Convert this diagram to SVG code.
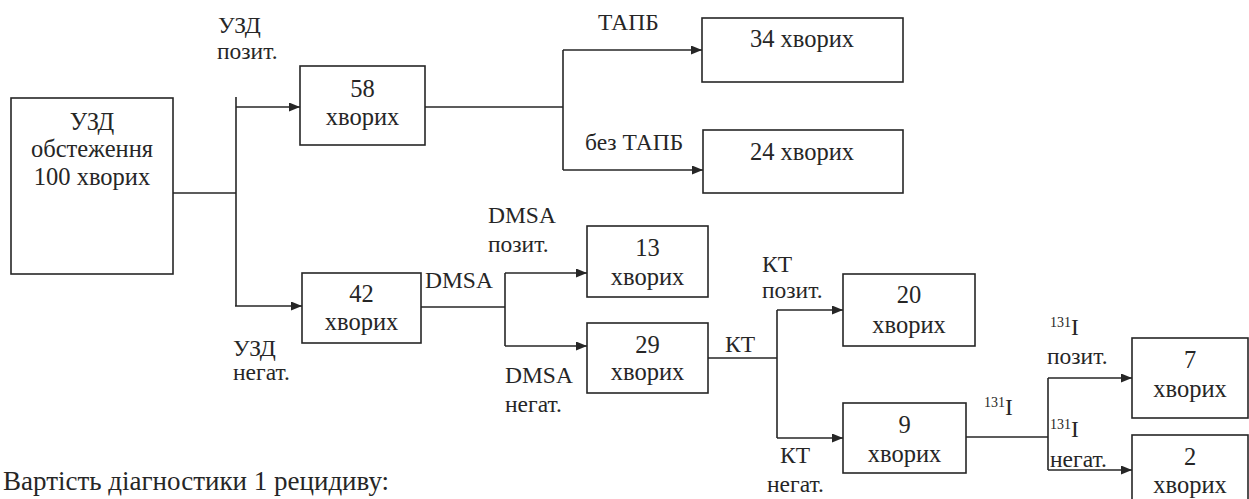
<svg xmlns="http://www.w3.org/2000/svg" width="1249" height="499" viewBox="0 0 1249 499">
<style>
  .box { fill: #fff; stroke: #262626; stroke-width: 1.6; }
  text { font-family: "Liberation Serif", "Times New Roman", serif; fill: #262626; }
  .t { font-size: 24.5px; text-anchor: middle; }
  .lb { font-size: 23.5px; }
  .sup { font-size: 14px; }
  .big { font-size: 27px; }
  .ln { fill: none; stroke: #262626; stroke-width: 1.6; }
</style>
<defs>
  <marker id="arr" markerUnits="userSpaceOnUse" markerWidth="12" markerHeight="10" refX="11" refY="4.5" orient="auto">
    <path d="M0,0 L11,4.5 L0,9 z" fill="#262626"/>
  </marker>
</defs>
<rect width="1249" height="499" fill="#fff"/>

<g id="connectors">
  <path class="ln" d="M173,193 H236"/>
  <path class="ln" d="M236,97 V306"/>
  <path class="ln" d="M236,107 H300" marker-end="url(#arr)"/>
  <path class="ln" d="M235,306 H302" marker-end="url(#arr)"/>
  <path class="ln" d="M425,107 H563"/>
  <path class="ln" d="M563,50 V170"/>
  <path class="ln" d="M563,50 H702" marker-end="url(#arr)"/>
  <path class="ln" d="M563,170 H703" marker-end="url(#arr)"/>
  <path class="ln" d="M421,307 H505"/>
  <path class="ln" d="M505,273 V346"/>
  <path class="ln" d="M505,273 H587" marker-end="url(#arr)"/>
  <path class="ln" d="M505,346 H587" marker-end="url(#arr)"/>
  <path class="ln" d="M708,358 H777"/>
  <path class="ln" d="M777,310 V438"/>
  <path class="ln" d="M777,310 H843" marker-end="url(#arr)"/>
  <path class="ln" d="M777,438 H843" marker-end="url(#arr)"/>
  <path class="ln" d="M966,437 H1048"/>
  <path class="ln" d="M1048,378 V470"/>
  <path class="ln" d="M1048,378 H1132" marker-end="url(#arr)"/>
  <path class="ln" d="M1048,470 H1132" marker-end="url(#arr)"/>
</g>

<g id="n-start">
  <rect class="box" x="11" y="98" width="162" height="176"/>
  <text class="t" x="92" y="130">УЗД</text>
  <text class="t" x="92" y="157">обстеження</text>
  <text class="t" x="92" y="185">100 хворих</text>
</g>
<g id="n58">
  <rect class="box" x="300" y="66" width="125" height="79"/>
  <text class="t" x="362.5" y="97">58</text>
  <text class="t" x="362.5" y="125">хворих</text>
</g>
<g id="n34">
  <rect class="box" x="702" y="18" width="201" height="64"/>
  <text class="t" x="802" y="47">34 хворих</text>
</g>
<g id="n24">
  <rect class="box" x="703" y="130" width="200" height="63"/>
  <text class="t" x="802" y="160">24 хворих</text>
</g>
<g id="n42">
  <rect class="box" x="302" y="273" width="119" height="70"/>
  <text class="t" x="361.5" y="302">42</text>
  <text class="t" x="361.5" y="330">хворих</text>
</g>
<g id="n13">
  <rect class="box" x="587" y="226" width="121" height="71"/>
  <text class="t" x="647.5" y="256">13</text>
  <text class="t" x="647.5" y="285">хворих</text>
</g>
<g id="n29">
  <rect class="box" x="587" y="323" width="121" height="70"/>
  <text class="t" x="647.5" y="353">29</text>
  <text class="t" x="647.5" y="380">хворих</text>
</g>
<g id="n20">
  <rect class="box" x="843" y="274" width="132" height="72"/>
  <text class="t" x="909" y="303">20</text>
  <text class="t" x="909" y="333">хворих</text>
</g>
<g id="n9">
  <rect class="box" x="843" y="403" width="123" height="70"/>
  <text class="t" x="904.5" y="433">9</text>
  <text class="t" x="904.5" y="462">хворих</text>
</g>
<g id="n7">
  <rect class="box" x="1132" y="338" width="116" height="80"/>
  <text class="t" x="1190" y="368">7</text>
  <text class="t" x="1190" y="397">хворих</text>
</g>
<g id="n2">
  <rect class="box" x="1132" y="435" width="116" height="80"/>
  <text class="t" x="1190" y="465">2</text>
  <text class="t" x="1190" y="493">хворих</text>
</g>

<g id="labels">
  <text class="lb" x="218" y="33">УЗД</text>
  <text class="lb" x="217" y="59">позит.</text>
  <text class="lb" x="598" y="30">ТАПБ</text>
  <text class="lb" x="585" y="150">без ТАПБ</text>
  <text class="lb" x="233" y="356">УЗД</text>
  <text class="lb" x="233" y="380">негат.</text>
  <text class="lb" x="425" y="288">DMSA</text>
  <text class="lb" x="488" y="223">DMSA</text>
  <text class="lb" x="488" y="252">позит.</text>
  <text class="lb" x="505" y="383">DMSA</text>
  <text class="lb" x="505" y="412">негат.</text>
  <text class="lb" x="725" y="352">КТ</text>
  <text class="lb" x="762" y="272">КТ</text>
  <text class="lb" x="762" y="298">позит.</text>
  <text class="lb" x="780" y="463">КТ</text>
  <text class="lb" x="767" y="492">негат.</text>
  <text class="lb" x="984" y="415"><tspan class="sup" dy="-8">131</tspan><tspan dy="8">I</tspan></text>
  <text class="lb" x="1050" y="335"><tspan class="sup" dy="-8">131</tspan><tspan dy="8">I</tspan></text>
  <text class="lb" x="1047" y="364">позит.</text>
  <text class="lb" x="1050" y="437"><tspan class="sup" dy="-8">131</tspan><tspan dy="8">I</tspan></text>
  <text class="lb" x="1050" y="467">негат.</text>
  <text class="big" x="3" y="490">Вартість діагностики 1 рецидиву:</text>
</g>
</svg>
